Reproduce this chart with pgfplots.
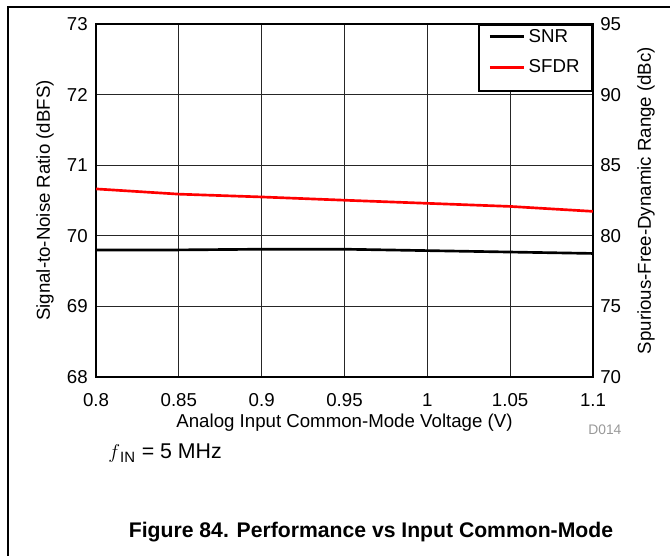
\documentclass[border=0pt]{standalone}
\usepackage{fontspec}
\setmainfont{Liberation Sans}
\usepackage{pgfplots}
\pgfplotsset{compat=1.18}

% measures are taken at 0.6pt per reference pixel
\pgfplotsset{
  tiaxis/.style={
    width=298.2pt, height=211.8pt, scale only axis,
    at={(57.6pt,-226.2pt)}, anchor=south west,
    xmin=0.8, xmax=1.1,
    axis line style={line width=1.3pt},
    major tick length=0pt,
    tick label style={font=\fontsize{11.2}{13}\selectfont},
    label style={font=\fontsize{11.2}{13}\selectfont},
    /pgf/number format/assume math mode=true,
  },
}

\begin{document}
\begin{tikzpicture}
\path[use as bounding box] (0pt,0pt) rectangle (402pt,-333.6pt);
\draw[line width=0.8pt] (4.8pt,-333.6pt) -- (4.8pt,-4.2pt) -- (402pt,-4.2pt);

\begin{axis}[tiaxis,
    ymin=68, ymax=73,
    xtick={0.8,0.85,0.9,0.95,1,1.05,1.1},
    xticklabels={0.8,0.85,0.9,0.95,1,1.05,1.1},
    ytick={68,69,70,71,72,73},
    grid=major,
    grid style={line width=0.6pt, black!85},
    xticklabel style={anchor=base, yshift=-18pt},
    yticklabel style={anchor=east, inner sep=0pt, xshift=-4.8pt},
    xlabel={Analog Input Common-Mode Voltage (V)},
    xlabel style={at={([yshift=-30.4pt]axis description cs:0.5,0)}, anchor=base},
    ylabel={Signal-to-Noise Ratio (dBFS)},
    ylabel style={at={([xshift=-30.6pt]axis description cs:0,0.5)}, anchor=center},
    legend cell align=left,
    legend style={at={(1,1)}, anchor=north east, draw=black, line width=1.2pt,
      font=\fontsize{11.2}{13}\selectfont, inner xsep=5.5pt, inner ysep=0.4pt,
      row sep=5.2pt},
    legend image code/.code={\draw[#1, line width=1.7pt] (0pt,0pt) -- (20.4pt,0pt);},
]
\addplot[black, line width=1.6pt] coordinates {
  (0.8,69.80) (0.85,69.80) (0.9,69.81) (0.95,69.81) (1.0,69.79) (1.05,69.77) (1.1,69.75)
};
\addlegendentry{SNR}
\addlegendimage{red}
\addlegendentry{SFDR}
\addlegendimage{empty legend}
\addlegendentry[inner sep=0pt]{}
\end{axis}

\begin{axis}[tiaxis,
    ymin=70, ymax=95,
    ytick={70,75,80,85,90,95},
    axis x line=none,
    axis y line*=right,
    yticklabel style={anchor=west, inner sep=0pt, xshift=4.2pt},
    ylabel={Spurious-Free-Dynamic Range (dBc)},
    ylabel style={at={([xshift=31.8pt]axis description cs:1,0.5)}, anchor=center},
]
\addplot[red, line width=1.6pt] coordinates {
  (0.8,83.32) (0.85,82.95) (0.9,82.75) (0.95,82.52) (1.0,82.30) (1.05,82.08) (1.1,81.73)
};
\end{axis}

\node[anchor=base west, inner sep=0pt, font=\fontsize{12.8}{14}\selectfont] at (64.8pt,-275.4pt)
  {$f$\textsubscript{IN} = 5 MHz};
\node[anchor=base west, inner sep=0pt, text=black!40, font=\fontsize{8.3}{10}\selectfont] at (352.8pt,-261pt) {D014};
\node[anchor=base, inner sep=0pt, font=\fontsize{12.7}{14}\bfseries] at (222.6pt,-322.5pt)
  {Figure 84. Performance vs Input Common-Mode};
\end{tikzpicture}
\end{document}
